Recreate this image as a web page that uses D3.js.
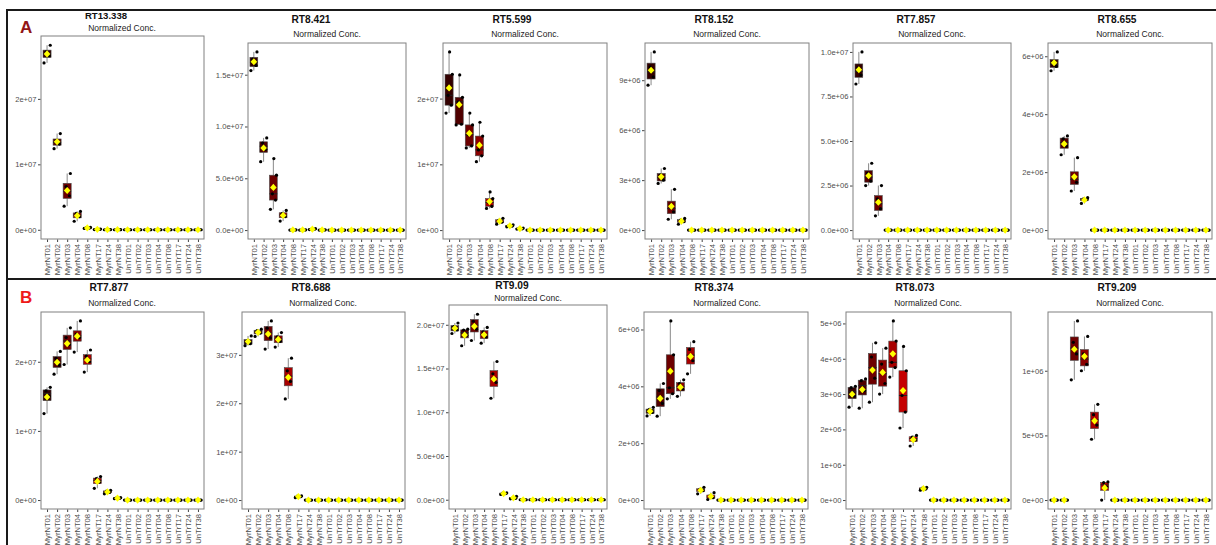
<!DOCTYPE html>
<html><head><meta charset="utf-8">
<script src="https://cdn.jsdelivr.net/npm/d3@7"></script>
<style>body{margin:0;background:#fff}svg{display:block;font-family:"Liberation Sans",Arial,Helvetica,sans-serif}</style>
</head><body><svg id="c" width="1216" height="545"></svg>
<script>
const groups = ["MyrNT01","MyrNT02","MyrNT03","MyrNT04","MyrNT08","MyrNT17","MyrNT24","MyrNT38",
                "UnTrT01","UnTrT02","UnTrT03","UnTrT04","UnTrT08","UnTrT17","UnTrT24","UnTrT38"];
const Z = [0,0,0,0];

const rt13_338 = [[2.55e7,2.66e7,2.72e7,2.82e7],[1.24e7,1.31e7,1.36e7,1.47e7],[3.6e6,5.2e6,6.6e6,8.6e6],[1.3e6,2.0e6,2.5e6,2.8e6],
  [2.0e5,2.6e5,3.2e5,3.6e5],[3e4,6e4,8e4,1.0e5],[0,1e4,2e4,3e4],[0,1e4,2e4,2e4],Z,Z,Z,Z,Z,Z,Z,Z];
const rt8_421 = [[1.54e7,1.59e7,1.65e7,1.72e7],[6.6e6,7.8e6,8.4e6,8.9e6],[2.0e6,2.9e6,3.5e6,5.3e6,6.9e6],[8.7e5,1.3e6,1.6e6,1.9e6],
  [0,1e4,2e4,3e4],[0,1e4,2e4,3e4],[5e4,8e4,1.0e5,1.4e5],[0,1e4,2e4,3e4],Z,Z,Z,Z,Z,Z,Z,Z];
const rt5_599 = [[1.78e7,1.90e7,2.05e7,2.37e7,2.71e7],[1.60e7,1.61e7,1.95e7,2.02e7,2.36e7],[1.25e7,1.28e7,1.45e7,1.60e7,1.78e7],
  [1.04e7,1.13e7,1.22e7,1.43e7,1.64e7],[3.3e6,3.6e6,4.2e6,4.8e6,5.8e6],[9e5,1.2e6,1.5e6,1.8e6],[5e5,6e5,7e5,8e5],[1.5e5,2e5,2.5e5,3e5],
  Z,Z,Z,Z,Z,Z,Z,Z];
const rt8_152 = [[8.7e6,9.2e6,9.8e6,1.07e7],[2.8e6,3.0e6,3.3e6,3.7e6],[6.5e5,1.1e6,1.5e6,2.45e6],[3.5e5,5.0e5,6.0e5,7.0e5],
  Z,Z,Z,Z,Z,Z,Z,Z,Z,Z,Z,Z];
const rt7_857 = [[8.2e6,8.7e6,9.1e6,1.0e7],[2.5e6,2.75e6,3.2e6,3.75e6],[8e5,1.2e6,1.75e6,2.5e6],
  Z,Z,Z,Z,Z,Z,Z,Z,Z,Z,Z,Z,Z];
const rt8_655 = [[5.5e6,5.65e6,5.8e6,6.15e6],[2.6e6,2.9e6,3.15e6,3.25e6],[1.35e6,1.65e6,1.85e6,2.5e6],[9.2e5,1.05e6,1.08e6,1.12e6],
  Z,Z,Z,Z,Z,Z,Z,Z,Z,Z,Z,Z];
const rt7_877 = [[1.25e7,1.50e7,1.58e7,1.63e7],[1.82e7,1.95e7,2.05e7,2.15e7],[1.96e7,2.25e7,2.35e7,2.49e7],[2.14e7,2.35e7,2.40e7,2.59e7],
  [1.85e7,2.0e7,2.08e7,2.17e7],[1.7e6,2.6e6,3.1e6,3.4e6],[9e5,1.1e6,1.3e6,1.4e6],[2e5,2.5e5,3e5,3.5e5],Z,Z,Z,Z,Z,Z,Z,Z];
const rt8_688 = [[3.19e7,3.23e7,3.29e7,3.39e7],[3.38e7,3.45e7,3.50e7,3.53e7],[3.12e7,3.35e7,3.55e7,3.70e7],[3.16e7,3.28e7,3.37e7,3.46e7],
  [2.09e7,2.45e7,2.67e7,2.93e7],[5e5,7e5,8e5,8.5e5],Z,Z,Z,Z,Z,Z,Z,Z,Z,Z];
const rt9_09 = [[1.90e7,1.94e7,1.98e7,2.02e7],[1.76e7,1.88e7,1.94e7,1.95e7],[1.82e7,1.95e7,2.04e7,2.12e7],[1.79e7,1.86e7,1.92e7,1.97e7],
  [1.16e7,1.34e7,1.44e7,1.58e7],[6e5,7e5,7.5e5,7.8e5],[1e5,1.5e5,2e5,4e5],Z,Z,Z,Z,Z,Z,Z,Z,Z];
const rt8_374 = [[2.96e6,3.08e6,3.18e6,3.26e6],[2.95e6,3.4e6,3.85e6,4.1e6],[3.56e6,3.74e6,3.95e6,5.11e6,6.3e6],[3.65e6,3.9e6,4.1e6,4.23e6],
  [4.44e6,4.9e6,5.3e6,5.57e6],[2.2e5,3.3e5,3.8e5,4.5e5],[2e4,8e4,1.5e5,2.6e5],Z,Z,Z,Z,Z,Z,Z,Z,Z];
const rt8_073 = [[2.63e6,2.95e6,3.18e6,3.22e6],[2.6e6,3.1e6,3.38e6,3.43e6],[2.77e6,3.45e6,4.05e6,4.45e6],[3.0e6,3.3e6,3.85e6,4.3e6],
  [3.48e6,3.75e6,3.9e6,4.5e6,5.07e6],[2.04e6,2.49e6,2.96e6,3.66e6,4.35e6],[1.53e6,1.7e6,1.78e6,1.83e6],[2.8e5,3.1e5,3.4e5,3.6e5],
  Z,Z,Z,Z,Z,Z,Z,Z];
const rt9_209 = [Z,Z,[9.3e5,1.13e6,1.22e6,1.385e6],[1.0e6,1.05e6,1.13e6,1.265e6],[4.7e5,5.8e5,6.6e5,7.4e5],[0,1.0e5,1.35e5,1.4e5],
  Z,Z,Z,Z,Z,Z,Z,Z,Z,Z];

const panelTitles = ["RT13.338","RT8.421","RT5.599","RT8.152","RT7.857","RT8.655",
                     "RT7.877","RT8.688","RT9.09","RT8.374","RT8.073","RT9.209"];
const panelData = [rt13_338,rt8_421,rt5_599,rt8_152,rt7_857,rt8_655,rt7_877,rt8_688,rt9_09,rt8_374,rt8_073,rt9_209];
const panelTicks = [[0,1e7,2e7],[0,5e6,1e7,1.5e7],[0,1e7,2e7],[0,3e6,6e6,9e6],[0,2.5e6,5e6,7.5e6,1e7],[0,2e6,4e6,6e6],
                    [0,1e7,2e7],[0,1e7,2e7,3e7],[0,5e6,1e7,1.5e7,2e7],[0,2e6,4e6,6e6],[0,1e6,2e6,3e6,4e6,5e6],[0,5e5,1e6]];
const subtitle = "Normalized Conc.";
const rowLabels = ["A","B"];

// layout (positions only)
const layout = [
  {x0:41,x1:204,y0:36,y1:239,tx:106,ty:18.5,sx:122,sy:31,ts:9.6},
  {x0:248,x1:406,y0:43,y1:239,tx:311,ty:22.5,sx:327,sy:37,ts:10.2},
  {x0:443,x1:607,y0:43,y1:239,tx:512,ty:22.5,sx:525,sy:37,ts:10.2},
  {x0:645,x1:809,y0:43,y1:239,tx:714,ty:22.5,sx:727,sy:37,ts:10.2},
  {x0:853,x1:1011,y0:43,y1:239,tx:916,ty:22.5,sx:932,sy:37,ts:10.2},
  {x0:1048,x1:1212,y0:43,y1:239,tx:1117,ty:22.5,sx:1130,sy:37,ts:10.2},
  {x0:41,x1:204,y0:312,y1:509,tx:109,ty:290.5,sx:122,sy:306,ts:10.2},
  {x0:242,x1:405,y0:312,y1:509,tx:311,ty:290.5,sx:323,sy:306,ts:10.2},
  {x0:449,x1:607,y0:305,y1:509,tx:512,ty:288.5,sx:528,sy:300.5,ts:10.2},
  {x0:644,x1:808,y0:312,y1:509,tx:714,ty:290.5,sx:727,sy:306,ts:10.2},
  {x0:846,x1:1011,y0:312,y1:509,tx:915,ty:290.5,sx:928,sy:306,ts:10.2},
  {x0:1048,x1:1212,y0:312,y1:509,tx:1117,ty:290.5,sx:1130,sy:306,ts:10.2}
];

function sciFormatter(ticks){
  const parts = v => { if (v===0) return [0,0]; const e=Math.floor(Math.log10(Math.abs(v))+1e-9); return [v/Math.pow(10,e), e]; };
  let d = 0;
  ticks.forEach(t=>{ const m=parts(t)[0]; let k=0; while(k<4 && Math.abs(m-(+m.toFixed(k)))>1e-9) k++; d=Math.max(d,k); });
  return v => { const [m,e]=parts(v); return m.toFixed(d)+"e"+(e<0?"-":"+")+String(Math.abs(e)).padStart(2,"0"); };
}

const svg = d3.select("#c");
svg.append("rect").attr("width",1216).attr("height",545).attr("fill","#fff");
svg.append("path").attr("d","M7,545V10H1216").attr("fill","none").attr("stroke","#1a1a1a").attr("stroke-width",2);
svg.append("line").attr("x1",7).attr("x2",1216).attr("y1",279).attr("y2",279).attr("stroke","#1a1a1a").attr("stroke-width",2);
svg.append("text").text(rowLabels[0]).attr("x",20).attr("y",33).attr("font-size",17).attr("font-weight","bold").attr("fill","#921515");
svg.append("text").text(rowLabels[1]).attr("x",20).attr("y",303).attr("font-size",17).attr("font-weight","bold").attr("fill","#ee1a1a");

const fillFor = i => d3.interpolateRgb("#330000","#ff0000")((i%8)/7);
const jit = [-0.3,0.22,-0.1,0.32,0.05];

panelData.forEach((data,p)=>{
  const L = layout[p];
  const g = svg.append("g");
  const all = data.flat();
  const [mn,mx] = d3.extent(all);
  const pad = (mx-mn)*0.05;
  const y = d3.scaleLinear().domain([mn-pad,mx+pad]).range([L.y1,L.y0]);
  const x = d3.scalePoint().domain(groups).range([L.x0,L.x1]).padding(0.6);
  const step = x.step();
  const bw = step*0.8;

  g.append("rect").attr("x",L.x0).attr("y",L.y0).attr("width",L.x1-L.x0).attr("height",L.y1-L.y0)
    .attr("fill","#fff").attr("stroke","#808080").attr("stroke-width",1);

  g.append("text").text(panelTitles[p]).attr("x",L.tx).attr("y",L.ty).attr("text-anchor","middle")
    .attr("font-size",L.ts).attr("font-weight","bold").attr("fill","#111");
  g.append("text").text(subtitle).attr("x",L.sx).attr("y",L.sy).attr("text-anchor","middle")
    .attr("font-size",8.5).attr("fill","#1a1a1a");

  const fmt = sciFormatter(panelTicks[p]);
  const ya = g.append("g").attr("transform",`translate(${L.x0-0.5},0)`)
    .call(d3.axisLeft(y).tickValues(panelTicks[p]).tickFormat(fmt).tickSize(2.5).tickPadding(1.5));
  ya.select(".domain").remove();
  ya.selectAll("line").attr("stroke","#444");
  ya.selectAll("text").attr("font-size",7.6).attr("fill","#4d4d4d").attr("font-family",null);

  const xa = g.append("g").attr("transform",`translate(0,${L.y1+0.5})`)
    .call(d3.axisBottom(x).tickSize(2.5).tickPadding(0));
  xa.select(".domain").remove();
  xa.selectAll("line").attr("stroke","#444");
  xa.selectAll("text").attr("font-size",7.6).attr("fill","#4d4d4d").attr("font-family",null)
    .attr("transform","rotate(-90)").attr("text-anchor","end").attr("x",-4.5).attr("y",0).attr("dy","0.35em");

  const stats = data.map((vals,i)=>{
    const v = vals.slice().sort(d3.ascending);
    const q1=d3.quantile(v,0.25), med=d3.quantile(v,0.5), q3=d3.quantile(v,0.75), iqr=q3-q1;
    return {i, cx:x(groups[i]), q1, med, q3,
      lo:d3.min(v.filter(d=>d>=q1-1.5*iqr)), hi:d3.max(v.filter(d=>d<=q3+1.5*iqr)),
      mean:d3.mean(v), v:vals};
  });

  const bx = g.append("g");
  stats.forEach(s=>{
    bx.append("line").attr("x1",s.cx).attr("x2",s.cx).attr("y1",y(s.hi)).attr("y2",y(s.q3)).attr("stroke","#555").attr("stroke-width",0.7);
    bx.append("line").attr("x1",s.cx).attr("x2",s.cx).attr("y1",y(s.q1)).attr("y2",y(s.lo)).attr("stroke","#555").attr("stroke-width",0.7);
    bx.append("rect").attr("x",s.cx-bw/2).attr("width",bw).attr("y",y(s.q3)).attr("height",Math.max(0,y(s.q1)-y(s.q3)))
      .attr("fill",fillFor(s.i)).attr("stroke","#4a4a4a").attr("stroke-width",0.6);
    bx.append("line").attr("x1",s.cx-bw/2).attr("x2",s.cx+bw/2).attr("y1",y(s.med)).attr("y2",y(s.med)).attr("stroke","#222").attr("stroke-width",1);
  });
  const pts = g.append("g");
  stats.forEach(s=>{
    s.v.forEach((val,k)=>{
      pts.append("circle").attr("cx",s.cx+jit[k%jit.length]*step).attr("cy",y(val)).attr("r",1.6).attr("fill","#000");
    });
  });
  const mg = g.append("g");
  stats.forEach(s=>{
    const cx=s.cx, cy=y(s.mean), w=3.3, h=3.6;
    mg.append("path").attr("d",`M${cx},${cy-h}L${cx+w},${cy}L${cx},${cy+h}L${cx-w},${cy}Z`).attr("fill","#ffff00");
  });
});
</script></body></html>
